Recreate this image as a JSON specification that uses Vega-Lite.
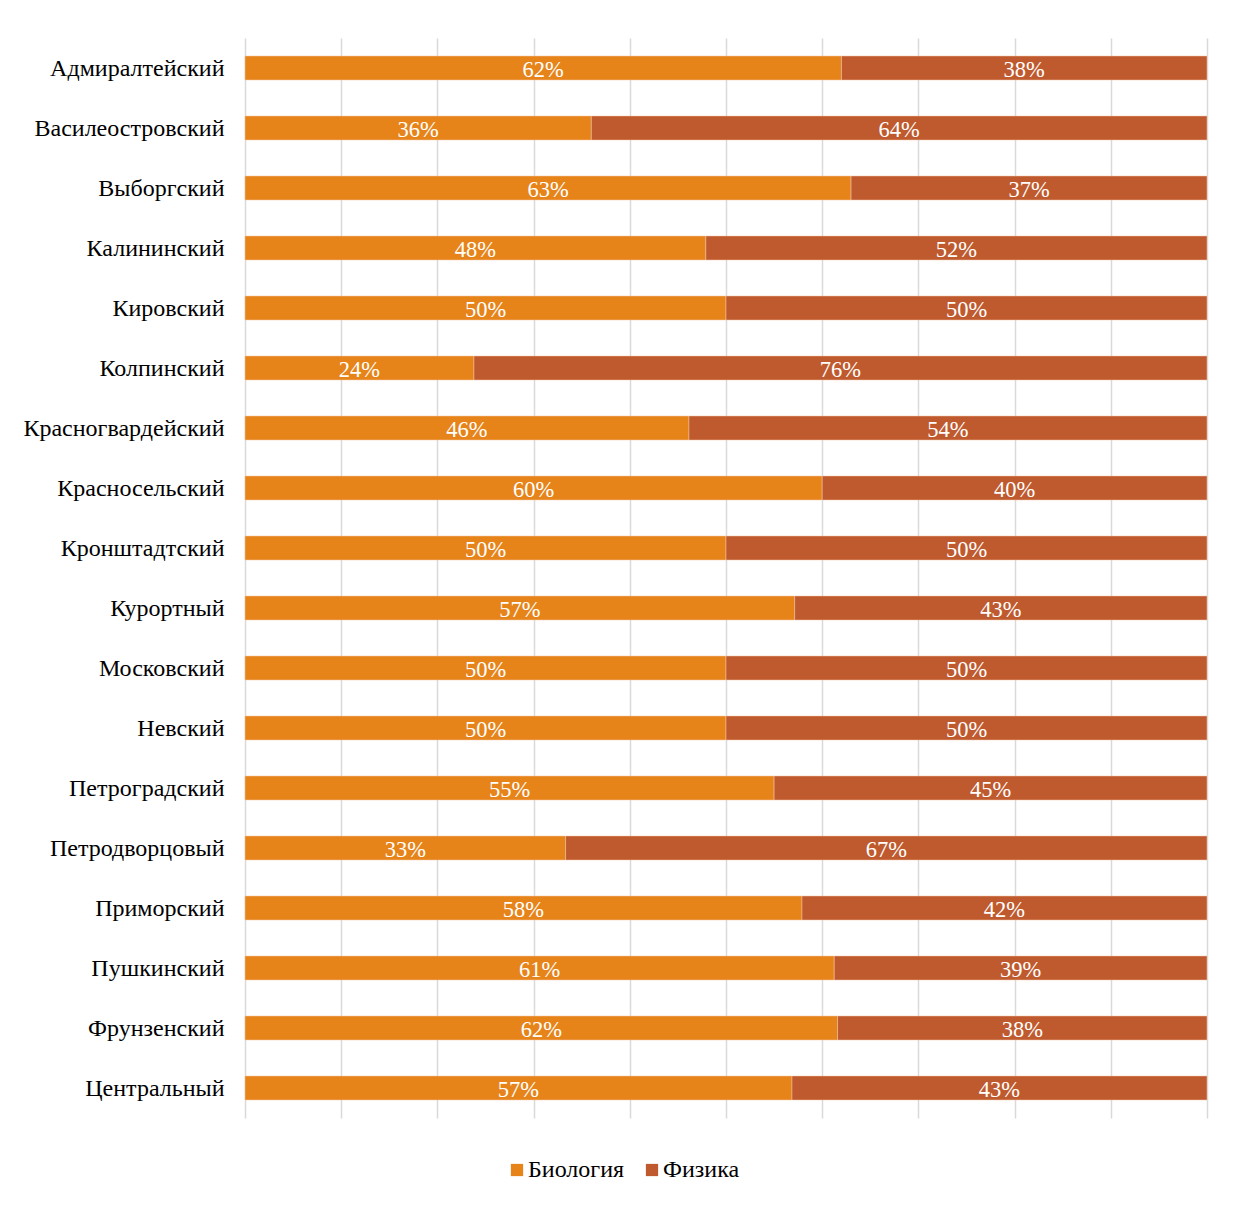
{
  "$schema": "https://vega.github.io/schema/vega-lite/v6.json",
  "width": 962,
  "height": 1080,
  "autosize": {"type": "none"},
  "padding": {"left": 245, "top": 38, "right": 33, "bottom": 87},
  "background": "white",
  "config": {
    "view": {"stroke": null},
    "font": "Liberation Serif"
  },
  "data": {
    "values": [
      {"district": "Адмиралтейский", "subject": "Биология", "share": 0.62},
      {"district": "Адмиралтейский", "subject": "Физика", "share": 0.38},
      {"district": "Василеостровский", "subject": "Биология", "share": 0.36},
      {"district": "Василеостровский", "subject": "Физика", "share": 0.64},
      {"district": "Выборгский", "subject": "Биология", "share": 0.63},
      {"district": "Выборгский", "subject": "Физика", "share": 0.37},
      {"district": "Калининский", "subject": "Биология", "share": 0.479},
      {"district": "Калининский", "subject": "Физика", "share": 0.521},
      {"district": "Кировский", "subject": "Биология", "share": 0.5},
      {"district": "Кировский", "subject": "Физика", "share": 0.5},
      {"district": "Колпинский", "subject": "Биология", "share": 0.238},
      {"district": "Колпинский", "subject": "Физика", "share": 0.762},
      {"district": "Красногвардейский", "subject": "Биология", "share": 0.4615},
      {"district": "Красногвардейский", "subject": "Физика", "share": 0.5385},
      {"district": "Красносельский", "subject": "Биология", "share": 0.6},
      {"district": "Красносельский", "subject": "Физика", "share": 0.4},
      {"district": "Кронштадтский", "subject": "Биология", "share": 0.5},
      {"district": "Кронштадтский", "subject": "Физика", "share": 0.5},
      {"district": "Курортный", "subject": "Биология", "share": 0.5714},
      {"district": "Курортный", "subject": "Физика", "share": 0.4286},
      {"district": "Московский", "subject": "Биология", "share": 0.5},
      {"district": "Московский", "subject": "Физика", "share": 0.5},
      {"district": "Невский", "subject": "Биология", "share": 0.5},
      {"district": "Невский", "subject": "Физика", "share": 0.5},
      {"district": "Петроградский", "subject": "Биология", "share": 0.55},
      {"district": "Петроградский", "subject": "Физика", "share": 0.45},
      {"district": "Петродворцовый", "subject": "Биология", "share": 0.3333},
      {"district": "Петродворцовый", "subject": "Физика", "share": 0.6667},
      {"district": "Приморский", "subject": "Биология", "share": 0.579},
      {"district": "Приморский", "subject": "Физика", "share": 0.421},
      {"district": "Пушкинский", "subject": "Биология", "share": 0.6125},
      {"district": "Пушкинский", "subject": "Физика", "share": 0.3875},
      {"district": "Фрунзенский", "subject": "Биология", "share": 0.616},
      {"district": "Фрунзенский", "subject": "Физика", "share": 0.384},
      {"district": "Центральный", "subject": "Биология", "share": 0.5686},
      {"district": "Центральный", "subject": "Физика", "share": 0.4314}
    ]
  },
  "encoding": {
    "y": {
      "field": "district",
      "type": "nominal",
      "sort": null,
      "scale": {"paddingInner": 0.6, "paddingOuter": 0.3},
      "axis": {
        "title": null,
        "domain": false,
        "ticks": false,
        "labelPadding": 21,
        "labelLimit": 400,
        "labelFont": "Liberation Serif",
        "labelFontSize": 24,
        "labelColor": "#000000",
        "labelOffset": 1
      }
    },
    "order": {"field": "subject", "sort": "ascending"}
  },
  "layer": [
    {
      "mark": {"type": "bar", "stroke": "#F5C9A8", "strokeWidth": 0.5},
      "encoding": {
        "x": {
          "field": "share",
          "type": "quantitative",
          "stack": "normalize",
          "scale": {"domain": [0, 1], "nice": false},
          "axis": {
            "title": null,
            "labels": false,
            "ticks": false,
            "domain": false,
            "values": [0, 0.1, 0.2, 0.3, 0.4, 0.5, 0.6, 0.7, 0.8, 0.9, 1.0],
            "grid": true,
            "gridColor": "#D9D9D9",
            "gridWidth": 1.5
          }
        },
        "color": {
          "field": "subject",
          "type": "nominal",
          "scale": {"domain": ["Биология", "Физика"], "range": ["#E6841A", "#BF5A2E"]},
          "legend": {
            "title": null,
            "orient": "none",
            "direction": "horizontal",
            "legendX": 260,
            "legendY": 1120,
            "symbolType": "square",
            "symbolSize": 150,
            "symbolStrokeWidth": 0,
            "labelFont": "Liberation Serif",
            "labelFontSize": 24,
            "labelColor": "#000000",
            "labelOffset": -1,
            "columnPadding": 15
          }
        }
      }
    },
    {
      "mark": {"type": "text", "color": "white", "font": "Liberation Serif", "fontSize": 22.5, "baseline": "middle", "dy": 2},
      "encoding": {
        "x": {
          "field": "share",
          "type": "quantitative",
          "stack": "normalize",
          "bandPosition": 0.5,
          "scale": {"domain": [0, 1], "nice": false},
          "axis": {
            "title": null,
            "labels": false,
            "ticks": false,
            "domain": false,
            "values": [0, 0.1, 0.2, 0.3, 0.4, 0.5, 0.6, 0.7, 0.8, 0.9, 1.0],
            "grid": true,
            "gridColor": "#D9D9D9",
            "gridWidth": 1.5
          }
        },
        "text": {"field": "share", "type": "quantitative", "format": ".0%"}
      }
    }
  ]
}
